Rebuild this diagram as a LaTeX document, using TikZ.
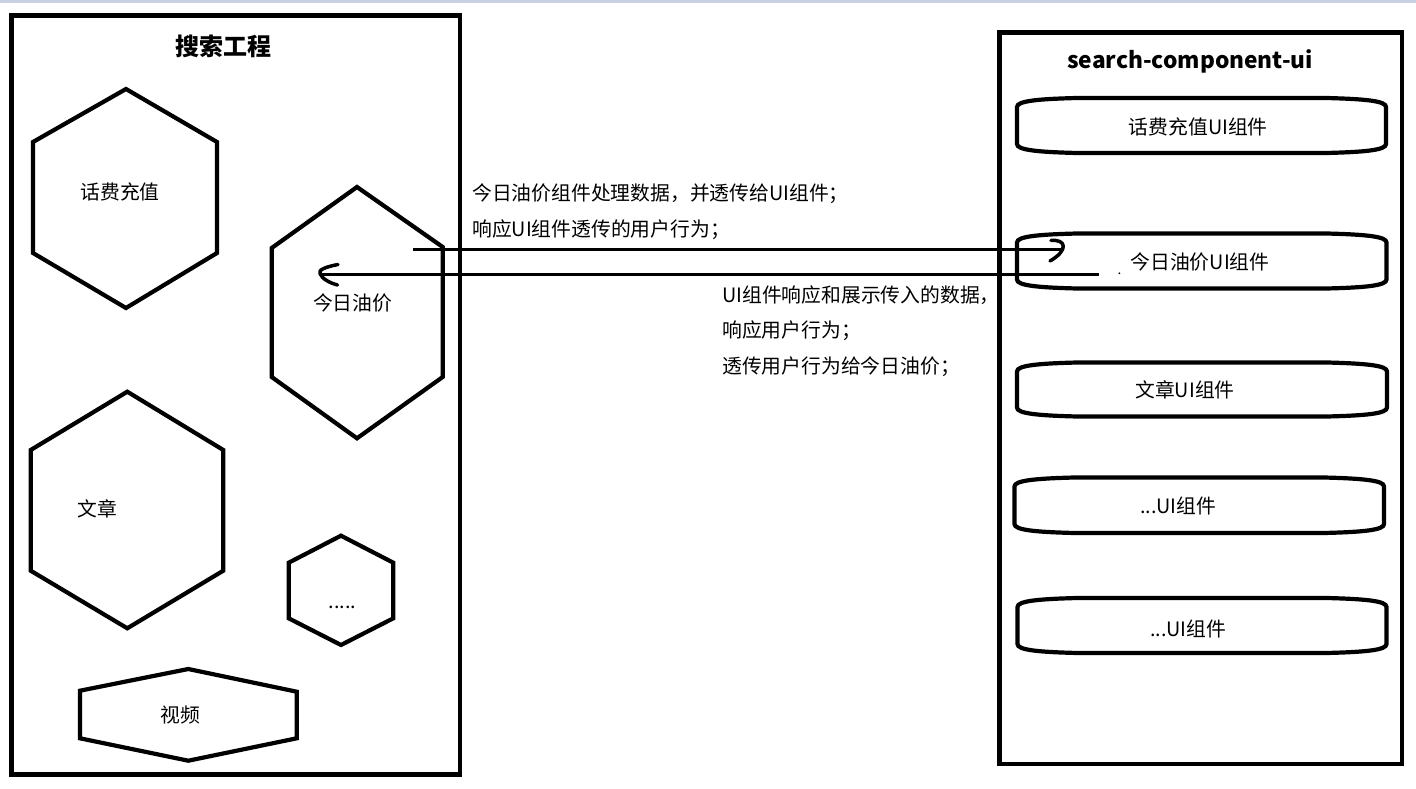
\documentclass[tikz,border=0pt]{standalone}
\usepackage{fontspec}
\setmainfont{Noto Sans CJK SC}
\definecolor{topbar}{RGB}{200,209,225}
\newcommand\uiframe[4]{%
  \draw[shp] (#1,#2+9) .. controls (#1,#2+3) and (#1+20,#2+1) .. (#1+60,#2)
    -- (#3-60,#2) .. controls (#3-20,#2+1) and (#3,#2+3) .. (#3,#2+9)
    -- (#3,#4-9) .. controls (#3,#4-3) and (#3-20,#4-1) .. (#3-60,#4)
    -- (#1+60,#4) .. controls (#1+20,#4-1) and (#1,#4-3) .. (#1,#4-9) -- cycle;}
\begin{document}
\begin{tikzpicture}[x=1pt,y=-1pt,
  frame/.style={line width=4.8pt, line join=miter},
  shp/.style={line width=4.2pt, line join=miter},
  lbl/.style={font=\fontsize{19.8}{23}\selectfont, inner sep=0pt},
  ttl/.style={font=\fontsize{24}{28}\selectfont\bfseries, inner sep=0pt},
  ttlb/.style={font=\fontsize{22.7}{27}\selectfont\bfseries, inner sep=0pt},
  flow/.style={line width=3pt},
  hook/.style={line width=3.5pt, line cap=round, line join=round}]
\useasboundingbox (0,0) rectangle (1416,789);
\fill[topbar] (0,0) rectangle (1416,3.5);

% left frame
\draw[frame] (11.5,15.5) rectangle (460,774.5);
\node[ttl] (t1) at (223.5,46.7) {搜索工程};

% hexagons
\draw[shp] (126,89) -- (217,142) -- (217,253) -- (126,308) -- (33,253) -- (33,142) -- cycle;
\node[lbl] (h1) at (120,192) {话费充值};
\draw[shp] (357,187) -- (442.7,247) -- (442.7,377) -- (357,438.3) -- (271.7,377) -- (271.7,248) -- cycle;
\node[lbl] (h2) at (352.7,303.3) {今日油价};
\draw[shp] (127.3,391.7) -- (223.3,450) -- (223.3,570.7) -- (127.3,628.3) -- (30.7,570.7) -- (30.7,450) -- cycle;
\node[lbl] (h3) at (97.3,509.3) {文章};
\draw[shp] (341,535.7) -- (393.3,562.7) -- (393.3,618.3) -- (341,645) -- (288.7,618.3) -- (288.7,562.7) -- cycle;
\node[lbl, anchor=base] (h4) at (342.3,608.5) {.....};
\draw[shp] (188.3,669) -- (296.7,691.7) -- (296.7,738.3) -- (188.3,760.7) -- (80,738.3) -- (80,690.7) -- cycle;
\node[lbl] (h5) at (180,715) {视频};

% right frame
\draw[frame] (999.5,32.5) rectangle (1402,764);
\node[ttlb] (t2) at (1190,61.7) {search-component-ui};

\uiframe{1017}{98}{1386}{153}
\node[lbl] (u1) at (1198.3,127.3) {话费充值UI组件};
\uiframe{1017}{233.5}{1386.5}{288.5}
\node[lbl] (u2) at (1200,261.7) {今日油价UI组件};
\uiframe{1017}{362.5}{1387}{416.5}
\node[lbl] (u3) at (1185,389.5) {文章UI组件};
\uiframe{1014.5}{477.5}{1384}{533}
\node[lbl] (u4) at (1178.3,506) {...UI组件};
\uiframe{1017.5}{598}{1386.5}{653}
\node[lbl] (u5) at (1188.3,629.3) {...UI组件};

% arrows
\coordinate (a1s) at (413,249);
\coordinate (a1e) at (1063,249);
\draw[flow] (a1s) -- (a1e);
\draw[hook] (1051,240.5) .. controls (1066,239) and (1069,250) .. (1050,261);
\coordinate (a2s) at (1098.5,274);
\coordinate (a2e) at (319,274);
\draw[flow] (a2s) -- (a2e);
\draw[hook] (338,264.5) .. controls (325,267) and (318,270) .. (320,273.5) .. controls (322,279) and (330,283) .. (337.5,285);
\fill (1119.3,273.3) circle (1pt);

% texts
\node[lbl, anchor=west] (m1) at (472,194) {今日油价组件处理数据，并透传给UI组件；};
\node[lbl, anchor=west] (m2) at (472,230) {响应UI组件透传的用户行为；};
\node[lbl, anchor=west] (m3) at (722,295) {UI组件响应和展示传入的数据，};
\node[lbl, anchor=west] (m4) at (722,330.5) {响应用户行为；};
\node[lbl, anchor=west] (m5) at (722,366.5) {透传用户行为给今日油价；};
\end{tikzpicture}
\end{document}
